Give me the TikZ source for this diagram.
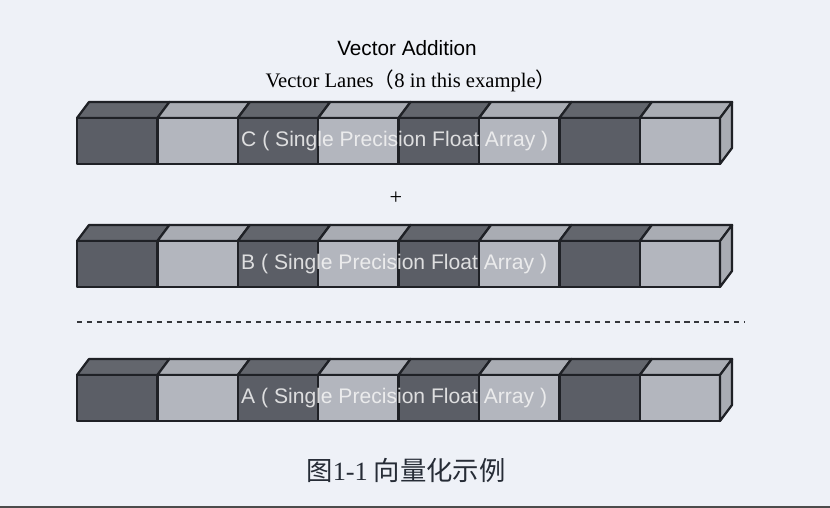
\documentclass[tikz,border=0pt]{standalone}
\usepackage{fontspec}
\setmainfont{Liberation Serif}
\setsansfont{Liberation Sans}
\newfontfamily\cjk{Noto Sans CJK SC}
\usetikzlibrary{positioning}
\definecolor{bgpaper}{HTML}{EEF1F7}
\definecolor{lanedark}{HTML}{5B5E66}
\definecolor{lanelight}{HTML}{B3B6BE}
\definecolor{topdark}{HTML}{63666D}
\definecolor{toplight}{HTML}{A9ACB3}
\definecolor{edgeink}{HTML}{1F2126}
\definecolor{capink}{HTML}{262C36}

\begin{document}
\begin{tikzpicture}[x=0.03cm,y=-0.03cm,
    lane/.style={draw=edgeink,line width=1.9pt,line join=round},
    lanelabel/.style={font=\sffamily\fontsize{18}{20}\selectfont,text=white!92!gray,text opacity=0.85,anchor=west,inner sep=0pt}]
  \useasboundingbox (0,0) rectangle (830,508);
  \fill[bgpaper] (0,0) rectangle (830,508);
  \fill[gray!60!black] (0,506) rectangle (830,508);
  \node[font=\sffamily\fontsize{17.7}{20}\selectfont] (title) at (407,48) {Vector Addition};
  \node[font=\fontsize{17.6}{20}\selectfont] (lanes) at (411,81) {Vector Lanes{\cjk （}8 in this example{\cjk ）}};
  % three arrays, y = top of the front faces
  \foreach \rowy/\rowname in {118/C, 241/B, 375/A} {
    \foreach \i in {0,...,7} {
      \pgfmathsetmacro\xa{77+80.4*\i}
      \pgfmathsetmacro\xb{77+80.4*(\i+1)}
      \ifodd\i\relax \def\fc{lanelight}\def\tc{toplight}\else \def\fc{lanedark}\def\tc{topdark}\fi
      \filldraw[lane,fill=\tc] (\xa,\rowy) -- ++(12,-16) -- (\xb+12,\rowy-16) -- (\xb,\rowy) -- cycle;
      \filldraw[lane,fill=\fc] (\xa,\rowy) rectangle (\xb,\rowy+46);
    }
    \filldraw[lane,fill=toplight] (720,\rowy) -- ++(12,-16) -- ++(0,46) -- ++(-12,16) -- cycle;
    \node[lanelabel] (lbl\rowname) at (241,\rowy+23) {\rowname\ ( Single Precision Float Array )};
  }
  \node[font=\fontsize{19}{20}\selectfont] (plus) at (396,198) {+};
  \draw[edgeink!90,line width=1.7pt,dash pattern=on 4.3pt off 4.2pt] (77,322) -- (745,322);
  \node[font=\cjk\fontsize{22.5}{26}\selectfont,text=capink] (caption) at (406,470) {图{\rmfamily 1-1} 向量化示例};
\end{tikzpicture}
\end{document}
